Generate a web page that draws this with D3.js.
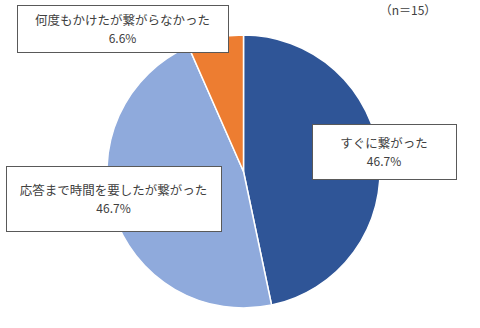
<!DOCTYPE html>
<html>
<head>
<meta charset="utf-8">
<script src="https://cdn.jsdelivr.net/npm/d3@7"></script>
<style>
  body { margin: 0; background: #fff; }
  svg { display: block; }
  text { font-family: "Noto Sans CJK JP", "Noto Sans", sans-serif; fill: #404040; }
</style>
</head>
<body>
<svg id="chart"></svg>
<script>
// data
const categories = ["すぐに繋がった", "応答まで時間を要したが繋がった", "何度もかけたが繋がらなかった"];
const values = [46.7, 46.7, 6.6];
const colors = ["#2F5597", "#8FAADC", "#ED7D31"];
const note = "（n＝15）";

// label boxes (layout only)
const boxes = [
  {x: 312, y: 124, w: 144, h: 55},
  {x: 6, y: 166, w: 215, h: 65},
  {x: 17, y: 5, w: 211, h: 47}
];

const width = 480, height = 328;
const cx = 243.5, cy = 171.5, radius = 136.5;

const svg = d3.select("#chart")
  .attr("width", width)
  .attr("height", height);

const pie = d3.pie().sort(null).value(d => d)(values);
const arc = d3.arc().innerRadius(0).outerRadius(radius);

const chart = svg.append("g").attr("transform", `translate(${cx},${cy})`);

chart.selectAll("path")
  .data(pie)
  .join("path")
  .attr("d", arc)
  .attr("fill", (d, i) => colors[i])
  .attr("stroke", "#fff")
  .attr("stroke-width", 1.5);

const labels = svg.append("g").selectAll("g")
  .data(pie)
  .join("g")
  .attr("transform", (d, i) => `translate(${boxes[i].x},${boxes[i].y})`);

labels.append("rect")
  .attr("x", 0.5).attr("y", 0.5)
  .attr("width", (d, i) => boxes[i].w)
  .attr("height", (d, i) => boxes[i].h)
  .attr("fill", "#fff")
  .attr("stroke", "#595959")
  .attr("stroke-width", 1);

labels.append("text")
  .attr("x", (d, i) => boxes[i].w / 2)
  .attr("y", (d, i) => boxes[i].h / 2 - 9)
  .attr("text-anchor", "middle")
  .attr("dominant-baseline", "central")
  .style("font-size", "12.5px")
  .text((d, i) => categories[i]);

labels.append("text")
  .attr("x", (d, i) => boxes[i].w / 2)
  .attr("y", (d, i) => boxes[i].h / 2 + 9)
  .attr("text-anchor", "middle")
  .attr("dominant-baseline", "central")
  .style("font-size", "12px")
  .text(d => d.data.toFixed(1) + "%");

svg.append("text")
  .attr("x", 408)
  .attr("y", 9)
  .attr("text-anchor", "middle")
  .attr("dominant-baseline", "central")
  .style("font-size", "12px")
  .text(note);
</script>
</body>
</html>
